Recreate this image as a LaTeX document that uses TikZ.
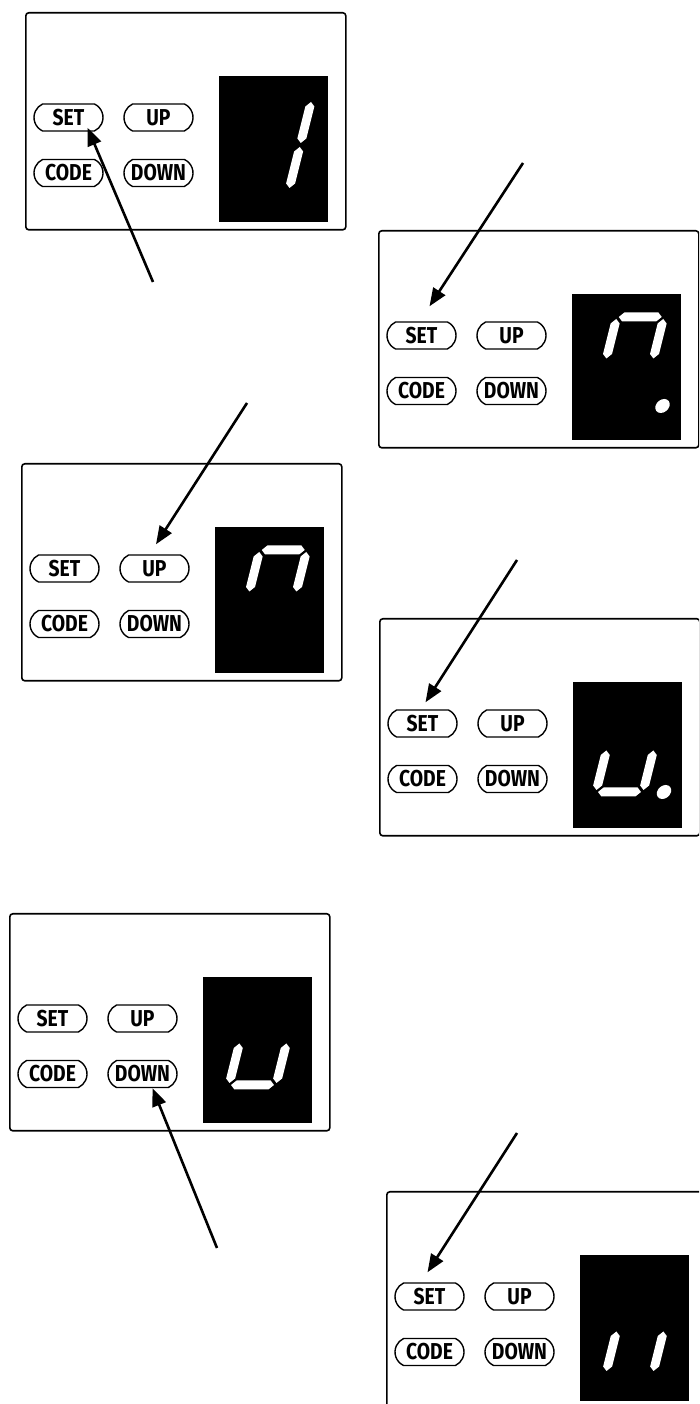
\documentclass[tikz,border=0pt]{standalone}
\usepackage{fontspec}
\newfontfamily\keyfont{Fira Sans}[FakeStretch=0.84]
\usetikzlibrary{arrows.meta,calc,shapes.misc}
\tikzset{
 panel/.style={draw,line width=1.6pt,rounded corners=3pt,minimum width=320pt,minimum height=217pt,anchor=north west,inner sep=0},
 lcd/.style={fill=black,minimum width=109pt,minimum height=146pt,anchor=north west,inner sep=0},
 key/.style={rounded rectangle,rounded rectangle arc length=130,draw,line width=1.4pt,minimum width=69pt,minimum height=27pt,inner sep=0,font=\keyfont\bfseries\fontsize{23}{23}\selectfont},
 seg/.style={fill=white},
 pusharrow/.style={line width=2.6pt,-{Triangle[length=18pt,width=14pt]}}
}
\newcommand{\lcdpanel}[2]{%
 \node[panel] (box#1) at (#2) {};
 \node[lcd] (lcd#1) at ($(box#1.north west)+(194,-64)$) {};
 \node[key] (set#1) at ($(box#1.north west)+(43.5,-105.5)$) {SET};
 \node[key] (up#1) at ($(box#1.north west)+(133.5,-105.5)$) {UP};
 \node[key] (code#1) at ($(box#1.north west)+(43.5,-161)$) {CODE};
 \node[key] (down#1) at ($(box#1.north west)+(133.5,-161)$) {DOWN};
}
\newcommand{\vseg}[3]{\fill[seg] (#1,#2+2) -- ++(4.5,4.5) -- (#1+4.5,#3-6.5) -- (#1,#3-2) -- (#1-4.5,#3-6.5) -- (#1-4.5,#2+6.5) -- cycle;}
\newcommand{\hseg}[3]{\fill[seg] (#2+2,#1) -- ++(4.5,4.5) -- (#3-6.5,#1+4.5) -- (#3-2,#1) -- (#3-6.5,#1-4.5) -- (#2+6.5,#1-4.5) -- cycle;}
\begin{document}
\begin{tikzpicture}[x=1pt,y=1pt]
\clip (0,0) rectangle (699,1404);
\path[use as bounding box] (0,0) rectangle (699,1404);
\lcdpanel{1}{25,1392}
\lcdpanel{2}{378,1174}
\lcdpanel{3}{21,941}
\lcdpanel{4}{379,786}
\lcdpanel{5}{9,491}
\lcdpanel{6}{386,213}
% digits
\begin{scope}[shift={($(lcd1.north west)+(23,-114)$)},xslant=.25]
 \vseg{47}{45}{90} \vseg{47}{0}{45}
\end{scope}
\begin{scope}[shift={($(lcd2.north west)+(23,-110)$)},xslant=.25]
 \hseg{87}{0}{47} \vseg{0}{43.5}{87} \vseg{47}{43.5}{87}
 \fill[seg] (68,-2) circle (7);
\end{scope}
\begin{scope}[shift={($(lcd3.north west)+(23,-110)$)},xslant=.25]
 \hseg{87}{0}{47} \vseg{0}{43.5}{87} \vseg{47}{43.5}{87}
\end{scope}
\begin{scope}[shift={($(lcd4.north west)+(23,-110)$)},xslant=.25]
 \hseg{0}{0}{47} \vseg{0}{0}{43.5} \vseg{47}{0}{43.5}
 \fill[seg] (68,0) circle (7);
\end{scope}
\begin{scope}[shift={($(lcd5.north west)+(26,-108)$)},xslant=.25]
 \hseg{0}{0}{47} \vseg{0}{0}{43.5} \vseg{47}{0}{43.5}
\end{scope}
\begin{scope}[shift={($(lcd6.north west)+(26,-118)$)},xslant=.25]
 \vseg{0}{0}{43.5} \vseg{47}{0}{43.5}
\end{scope}
% arrows
\coordinate (tail1) at (153,1122);
\coordinate (tip1) at ($(set1.south)+(19,4)$);
\draw[pusharrow] (tail1) -- (tip1);
\coordinate (tail2) at (523,1241);
\coordinate (tip2) at ($(set2.north)+(8,15)$);
\draw[pusharrow] (tail2) -- (tip2);
\coordinate (tail3) at (247,1001);
\coordinate (tip3) at ($(up3.north)+(1.5,10)$);
\draw[pusharrow] (tail3) -- (tip3);
\coordinate (tail4) at (517,844);
\coordinate (tip4) at ($(set4.north)+(3,7)$);
\draw[pusharrow] (tail4) -- (tip4);
\coordinate (tail5) at (217,156);
\coordinate (tip5) at ($(down5.south)+(10,0)$);
\draw[pusharrow] (tail5) -- (tip5);
\coordinate (tail6) at (517,271);
\coordinate (tip6) at ($(set6.north)+(-2,10)$);
\draw[pusharrow] (tail6) -- (tip6);
\end{tikzpicture}
\end{document}
